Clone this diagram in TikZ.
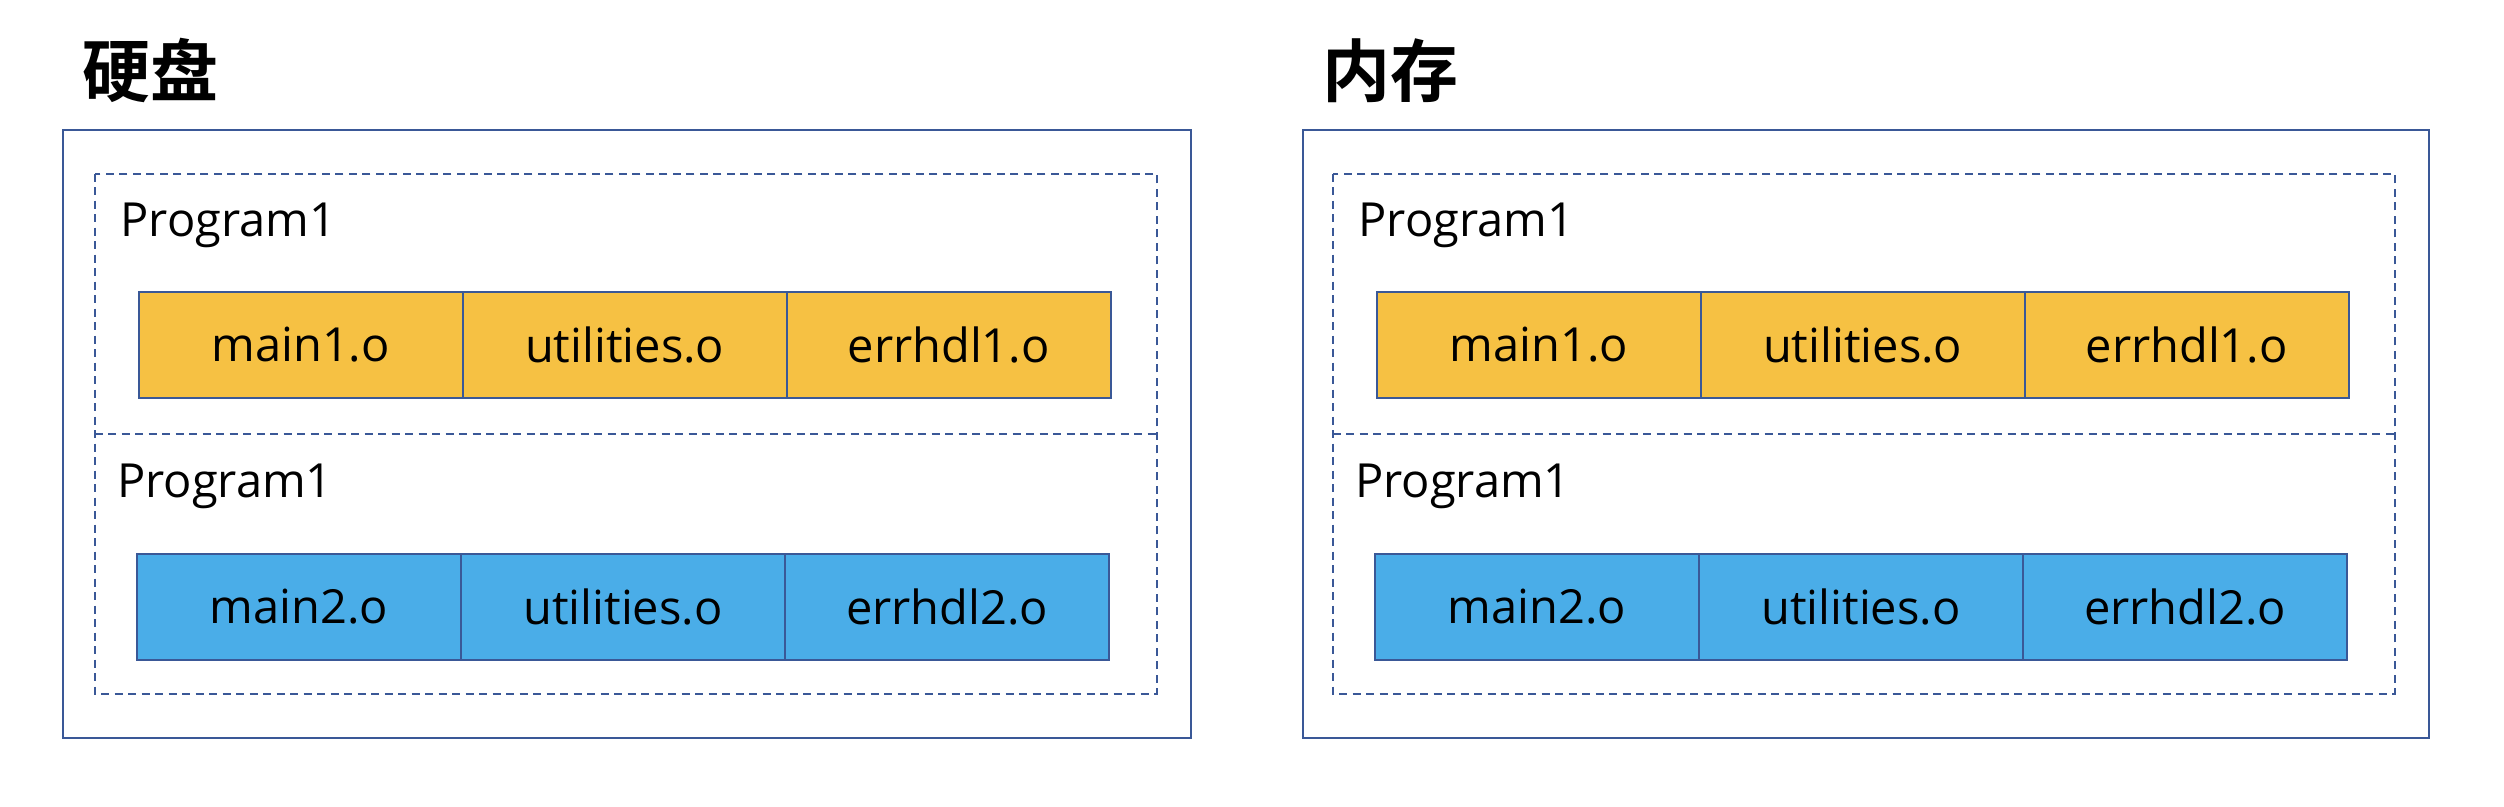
\documentclass[tikz,border=0pt]{standalone}
\usepackage{fontspec}
\setmainfont{Open Sans}
\newfontfamily\cjk{Noto Sans CJK SC}[BoldFont={Noto Sans CJK SC Bold}]
\definecolor{lineblue}{HTML}{3A5897}
\definecolor{cellyellow}{HTML}{F6C143}
\definecolor{cellblue}{HTML}{4AADE8}
\tikzset{
  outerbox/.style={draw=lineblue, line width=0.7pt},
  dashbox/.style={draw=lineblue, line width=0.7pt, dash pattern=on 3.2pt off 2.2pt},
  cell/.style={draw=lineblue, line width=0.8pt, minimum width=129.6pt, minimum height=42.3pt, inner sep=0pt, font=\fontsize{18.8pt}{22pt}\selectfont},
  ycell/.style={cell, fill=cellyellow},
  bcell/.style={cell, fill=cellblue},
  proglabel/.style={anchor=base west, inner sep=0pt, font=\fontsize{18.8pt}{22pt}\selectfont},
  title/.style={anchor=base west, inner sep=0pt, font=\cjk\bfseries\fontsize{27.2pt}{30pt}\selectfont}
}
\begin{document}
\begin{tikzpicture}[x=0.4pt, y=-0.4pt]
\useasboundingbox (0,0) rectangle (2504,806);
% titles
\node[title] (t1) at (82,97) {硬盘};
\node[title] (t2) at (1322,97) {内存};
% left panel
\draw[outerbox] (62.7,130) rectangle (1191,737.7);
\draw[dashbox] (94.7,173.7) rectangle (1157,693.7);
\draw[dashbox] (94.7,433.7) -- (1157,433.7);
\node[proglabel] (p1) at (120,236) {Program1};
\node[proglabel] (p2) at (116.7,497.7) {Program1};
\node[ycell] (a1) at (300.7,344.7) {main1.o};
\node[ycell] (a2) at (624.7,344.7) {utilities.o};
\node[ycell] (a3) at (948.7,344.7) {errhdl1.o};
\node[bcell] (b1) at (298.8,606.9) {main2.o};
\node[bcell] (b2) at (623,606.9) {utilities.o};
\node[bcell] (b3) at (947.1,606.9) {errhdl2.o};
% right panel
\draw[outerbox] (1302.7,130) rectangle (2429,737.7);
\draw[dashbox] (1332.7,173.7) rectangle (2395,693.7);
\draw[dashbox] (1332.7,433.7) -- (2395,433.7);
\node[proglabel] (p3) at (1358,236) {Program1};
\node[proglabel] (p4) at (1354.7,497.7) {Program1};
\node[ycell] (c1) at (1538.7,344.7) {main1.o};
\node[ycell] (c2) at (1862.7,344.7) {utilities.o};
\node[ycell] (c3) at (2186.7,344.7) {errhdl1.o};
\node[bcell] (d1) at (1536.8,606.9) {main2.o};
\node[bcell] (d2) at (1861,606.9) {utilities.o};
\node[bcell] (d3) at (2185.1,606.9) {errhdl2.o};
\end{tikzpicture}
\end{document}
